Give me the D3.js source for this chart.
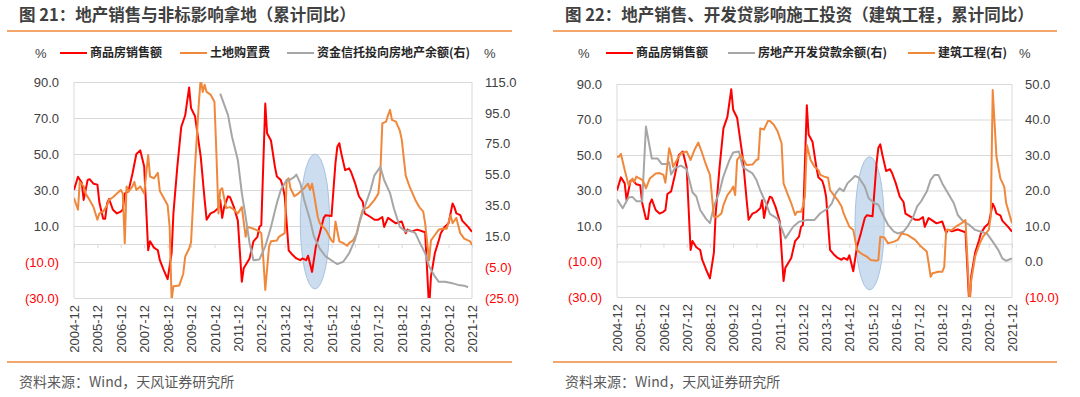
<!DOCTYPE html>
<html lang="zh">
<head>
<meta charset="UTF-8">
<title>地产销售与拿地、施工投资</title>
<script src="https://cdn.jsdelivr.net/npm/d3@7"></script>
<style>
  body { margin: 0; background: #fff; }
  svg text { font-family: "Liberation Sans", Arial, sans-serif; }
  svg .cn { font-family: "Noto Sans CJK SC", "Noto Sans", sans-serif; }
</style>
</head>
<body>
<svg id="chart" width="1080" height="397"></svg>
<script>

// ---------- data ----------

// x axis labels and y axis ticks
var yearTicks  = ["2004-12","2005-12","2006-12","2007-12","2008-12","2009-12","2010-12","2011-12","2012-12",
                  "2013-12","2014-12","2015-12","2016-12","2017-12","2018-12","2019-12","2020-12","2021-12"];
var leftTicks  = [-30, -10, 10, 30, 50, 70, 90];
var trustTicks = [-25, -5, 15, 35, 55, 75, 95, 115];
var buildTicks = [-10, 0, 10, 20, 30, 40, 50];

// 商品房销售额 累计同比 (both panels, left axis)
var salesMonths = [
  "2004-12",
  "2005-02","2005-04","2005-05","2005-07","2005-08","2005-10","2005-12",
  "2006-01","2006-03","2006-04","2006-05","2006-06","2006-08","2006-10","2006-12",
  "2007-01","2007-02","2007-04","2007-06","2007-08","2007-10","2007-12",
  "2008-02","2008-03","2008-05","2008-07","2008-08","2008-10","2008-12",
  "2009-02","2009-03","2009-05","2009-07","2009-09","2009-11","2009-12",
  "2010-02","2010-04","2010-05","2010-07","2010-08","2010-10","2010-12",
  "2011-02","2011-03","2011-04","2011-05","2011-07","2011-08","2011-10","2011-12",
  "2012-02","2012-03","2012-06","2012-08","2012-10","2012-11","2012-12",
  "2013-02","2013-03","2013-05","2013-07","2013-08","2013-10","2013-11","2013-12",
  "2014-02","2014-04","2014-06","2014-08","2014-09","2014-11","2014-12",
  "2015-02","2015-04","2015-06","2015-08","2015-09","2015-12",
  "2016-02","2016-03","2016-04","2016-05","2016-07","2016-09","2016-10","2016-12",
  "2017-02","2017-04","2017-05","2017-08","2017-10","2017-12",
  "2018-02","2018-03","2018-05","2018-07","2018-09","2018-12",
  "2019-02","2019-03","2019-05","2019-08","2019-12",
  "2020-02","2020-03","2020-05","2020-07","2020-08","2020-10","2020-12",
  "2021-02","2021-03","2021-04","2021-06","2021-07","2021-10","2021-12"];
var salesValues = [
  30,
  37.4, 34, 24.5, 35.5, 36, 33.5, 33,
  23, 14, 14, 22.5, 25, 19, 17, 18,
  19, 28, 29.5, 39, 50, 52, 43,
  -3.5, 1.5, -2, -3.5, -9, -14.5, -19.5,
  -5, 17, 43, 65, 71.5, 87, 75.5,
  71, 56, 48.5, 24.5, 13.5, 17, 18,
  20, 24.5, 14.5, 20.5, 26.5, 26, 20.5, 13,
  -21, -13.5, -8, 1.5, 4, 9.5, 10.5,
  78, 61.5, 57.5, 43, 37.5, 35.5, 32, 26.5,
  -3.5, -6, -8, -9, -8, -9, -6.5,
  -15.5, -1.5, 6, 14.5, 16, 15.5,
  45, 54, 56, 50.5, 41, 42, 40, 34,
  26.5, 23.5, 17, 15, 13.5, 13.5,
  15, 9.5, 14.5, 13, 11.5, 12.5,
  6, 8, 7, 8, 6.5,
  -36, -18, -5, 2, 6, 9.5, 11.5,
  22.5, 20.5, 17, 16, 13, 9.5, 6.8];

// 土地购置费 累计同比 (panel 1, left axis)
var landMonths = [
  "2004-12",
  "2005-02","2005-03","2005-05","2005-06","2005-08","2005-10","2005-12",
  "2006-01","2006-03","2006-05","2006-06","2006-08","2006-10","2006-12",
  "2007-01","2007-02","2007-03","2007-04","2007-06","2007-07","2007-08","2007-10","2007-12",
  "2008-02","2008-03","2008-05","2008-07","2008-08","2008-10","2008-12",
  "2009-01","2009-02","2009-03","2009-06","2009-08","2009-09","2009-11","2009-12",
  "2010-02","2010-04","2010-05","2010-06","2010-07","2010-08","2010-10","2010-12",
  "2011-01","2011-02","2011-03","2011-04","2011-06","2011-08","2011-10","2011-12",
  "2012-02","2012-04","2012-05","2012-08","2012-11","2012-12",
  "2013-01","2013-02","2013-04","2013-05","2013-08","2013-09","2013-12",
  "2014-01","2014-02","2014-03","2014-05","2014-07","2014-10","2014-12",
  "2015-01","2015-02","2015-03","2015-05","2015-06","2015-09","2015-12",
  "2016-01","2016-02","2016-04","2016-06","2016-08","2016-09","2016-11",
  "2017-01","2017-03","2017-04","2017-07","2017-10","2017-12",
  "2018-01","2018-02","2018-04","2018-05","2018-06","2018-07","2018-09","2018-11","2018-12",
  "2019-02","2019-04","2019-07","2019-09","2019-11","2019-12",
  "2020-02","2020-03","2020-05","2020-07","2020-09","2020-11",
  "2021-01","2021-02","2021-04","2021-06","2021-08","2021-11","2021-12"];
var landValues = [
  25.5,
  19, 34.5, 32, 28, 24.5, 20.5, 13.5,
  17, 18, 21.5, 24.5, 26, 28, 30,
  28, 0.5, 32, 29, 32, 34.5, 30, 32, 28,
  49.5, 37.5, 36.5, 39.5, 29.5, 25.5, 21.5,
  9.5, -31, -23.5, -23, -16.5, -7, -2.5, 1,
  43, 78, 92, 84.5, 88.5, 84.5, 83, 79,
  50, 17, 30, 31, 20, 20.5, 19, 17,
  20.5, 4, 9.5, 8.5, 7, 6,
  -8, -25.5, -1.5, 1.5, 2, 4, 6,
  35.5, 36.5, 31, 26.5, 28, 31, 33.5,
  30, 33.5, 28, 15, 11.5, 8, 2,
  1, 12.5, 1.5, 0.5, -1, 0.5, 2,
  6, 15, 19, 20.5, 24.5, 28,
  39.5, 67, 68, 71.5, 74.5, 69, 68, 63, 58,
  38, 32, 24.5, 20.5, 18, 11.5,
  -9, 2, 5, 8, 8.5, 8.5,
  16, 11.5, 14.5, 6, 3, 1.5, -0.5];

// 资金信托投向房地产余额 同比 (panel 1, right axis)
var trustMonths = [
  "2011-03","2011-07","2011-09","2011-12",
  "2012-02","2012-04","2012-06","2012-08","2012-11",
  "2013-02","2013-05","2013-08","2013-10",
  "2014-01","2014-02","2014-05","2014-06","2014-08","2014-10",
  "2015-01","2015-03","2015-06","2015-09",
  "2016-01","2016-03","2016-06","2016-09","2016-12",
  "2017-02","2017-05","2017-08","2017-10",
  "2018-01","2018-03","2018-06","2018-08","2018-11",
  "2019-02","2019-04","2019-07","2019-09","2019-12",
  "2020-02","2020-05","2020-07","2020-10",
  "2021-02","2021-05","2021-08","2021-10"];
var trustValues = [
  107.5, 93.5, 79.5, 64.5,
  43, 27.5, 10.5, -0.5, 0,
  8.5, 21, 36.5, 45,
  51.5, 51, 53.5, 55, 49.5, 38.5,
  25.5, 15, 7, 2,
  -1.5, -3, -1.5, 4, 12.5,
  23, 34, 45, 54.5,
  60, 51.5, 43, 33, 21,
  18, 19, 17, 11.5, 4,
  -4.5, -11, -14.5, -14.5,
  -15.5, -16.5, -17, -18];

// 房地产开发贷款余额 同比 (panel 2, right axis)
var loanMonths = [
  "2004-12",
  "2005-03","2005-06","2005-08","2005-10",
  "2006-01","2006-03","2006-06","2006-09","2006-11",
  "2007-02","2007-03","2007-04","2007-06","2007-09","2007-12",
  "2008-03","2008-05","2008-07","2008-10","2008-12",
  "2009-02","2009-05","2009-07","2009-10","2009-12",
  "2010-03","2010-05","2010-07","2010-10","2010-12",
  "2011-02","2011-05","2011-07","2011-11",
  "2012-01","2012-03","2012-07","2012-10",
  "2013-02","2013-06","2013-09",
  "2014-01","2014-03","2014-05","2014-07","2014-09","2014-11",
  "2015-03","2015-05","2015-08","2015-10",
  "2016-01","2016-03","2016-05","2016-08","2016-11",
  "2017-01","2017-04","2017-06","2017-09","2017-11",
  "2018-01","2018-04","2018-06","2018-08","2018-10","2018-12",
  "2019-03","2019-06","2019-08","2019-11",
  "2020-02","2020-05","2020-08","2020-11",
  "2021-02","2021-05","2021-07","2021-09","2021-12"];
var loanValues = [
  17.5,
  15, 18, 18.2, 17,
  17, 38, 29, 29, 27.5,
  27.5, 28, 24.5, 26.3, 27, 26,
  19.5, 18.3, 14.5, 12, 10.8,
  15.5, 19.7, 24, 28.5, 30.7,
  31, 26.7, 25.8, 24.8, 23,
  20, 16.4, 13.4, 12,
  9.3, 6.5, 9.8, 11.2,
  11.7, 11.7, 13.6,
  15, 16.4, 19.2, 20.6, 19.8, 22,
  24.1, 23.6, 21.1, 17.8,
  16.4, 16, 13.6, 10.3, 8.4,
  7.9, 8.4, 9.8, 12.6, 15.5,
  16.9, 19.7, 23, 24.4, 24.4, 22,
  19.2, 16.4, 13.1, 11.2,
  10.3, 8.9, 8.4, 7.9,
  5.6, 3.2, 0.9, 0.2, 0.9];

// 建筑工程 累计同比 (panel 2, right axis)
var buildMonths = [
  "2004-12",
  "2005-01","2005-02","2005-04","2005-06","2005-08","2005-09","2005-10",
  "2006-01","2006-02","2006-03","2006-05","2006-08","2006-10","2006-12",
  "2007-01","2007-03","2007-04","2007-05","2007-07","2007-09","2007-12",
  "2008-02","2008-04","2008-06","2008-08","2008-10","2008-12",
  "2009-02","2009-04","2009-06","2009-07","2009-09","2009-11","2009-12",
  "2010-01","2010-02","2010-04","2010-06","2010-07","2010-10","2010-12",
  "2011-01","2011-02","2011-04","2011-06","2011-07","2011-09","2011-11",
  "2012-01","2012-02","2012-04","2012-06","2012-08","2012-09","2012-11","2012-12",
  "2013-01","2013-02","2013-04","2013-06","2013-08","2013-09","2013-11",
  "2014-01","2014-02","2014-04","2014-06","2014-08","2014-09","2014-12",
  "2015-02","2015-04","2015-06","2015-09","2015-11",
  "2016-02","2016-03","2016-04","2016-06","2016-08","2016-11",
  "2017-01","2017-03","2017-06","2017-10",
  "2018-01","2018-04","2018-05","2018-06","2018-07","2018-10","2018-12",
  "2019-01","2019-02","2019-05","2019-07","2019-10","2019-12",
  "2020-02","2020-03","2020-05","2020-07","2020-09","2020-12",
  "2021-01","2021-02","2021-04","2021-06","2021-08","2021-09","2021-11","2021-12"];
var buildValues = [
  29.5,
  29.5, 30.3, 25.8, 21.5, 23.4, 22.5, 23.9,
  23, 22, 20.6, 23.4, 24.8, 24.9, 24.4,
  22.2, 31.9, 30, 26.7, 28.6, 30.5, 31,
  28.6, 31.4, 33.5, 30.5, 27.2, 24.4,
  12.6, 12.6, 13.6, 15.9, 18.7, 20.1, 21.1,
  18.7, 28.6, 30, 28.1, 27.2, 27.3, 28.6,
  28.8, 37.5, 37.2, 39.6, 39.6, 38.5, 36.6,
  33.3, 22, 19.2, 16.4, 13.1, 14, 14, 15.5,
  18.3, 32.8, 28.6, 26.7, 25.8, 24.4, 23.9,
  23.6, 20.1, 18.7, 17.3, 15.5, 13.6, 9.8,
  8.9, 3.2, 2.3, 1.4, 0.4,
  0.2, 0.4, 7, 6.8, 5.1, 5.6,
  6.1, 7.9, 7.5, 6.1,
  4.2, 2.8, -0.5, -4.3, -3.3, -2.9, -2.9,
  -1.5, 8.9, 8.9, 9.8, 10.8, 11.7,
  -11, -5.2, 1.4, 4.6, 7, 8.9,
  12.6, 48.3, 29.5, 23.4, 21.1, 16.4, 12.6, 10.8];

// ---------- drawing ----------

var RED = "#ff0000", ORANGE = "#f0883c", GRAY = "#a6a6a6", GRID = "#d9d9d9", RULE = "#f0883c";
var parseMonth = d3.timeParse("%Y-%m");

function toSeries(months, values) {
    return months.map(function (m, i) { return { date: parseMonth(m), v: values[i] }; });
}
function fmt(v) {
    return v < 0 ? "(" + Math.abs(v).toFixed(1) + ")" : v.toFixed(1);
}

var sales = toSeries(salesMonths, salesValues),
    land  = toSeries(landMonths, landValues),
    trust = toSeries(trustMonths, trustValues),
    loan  = toSeries(loanMonths, loanValues),
    build = toSeries(buildMonths, buildValues);

var panels = [
    {
        id: "p1",
        title: "图 21：地产销售与非标影响拿地（累计同比）",
        left: 7, right: 512, titleX: 19,
        x0: 74, x1: 472, y0: 82, y1: 298,
        rightDomain: [-25, 115], rightTicks: trustTicks,
        series: [
            { name: "商品房销售额", color: RED, data: sales, axis: "L", lx: 60 },
            { name: "土地购置费", color: ORANGE, data: land, axis: "L", lx: 180 },
            { name: "资金信托投向房地产余额(右)", color: GRAY, data: trust, axis: "R", lx: 287 }
        ],
        pctX: [35, 484],
        oval: { from: "2014-08", to: "2015-11", top: 50, bottom: -25 }
    },
    {
        id: "p2",
        title: "图 22：地产销售、开发贷影响施工投资（建筑工程，累计同比）",
        left: 553, right: 1057, titleX: 565,
        x0: 617, x1: 1012, y0: 84, y1: 297,
        rightDomain: [-10, 50], rightTicks: buildTicks,
        series: [
            { name: "商品房销售额", color: RED, data: sales, axis: "L", lx: 606 },
            { name: "房地产开发贷款余额(右)", color: GRAY, data: loan, axis: "R", lx: 728 },
            { name: "建筑工程(右)", color: ORANGE, data: build, axis: "R", lx: 908 }
        ],
        pctX: [578, 1019],
        oval: { from: "2015-03", to: "2016-06", top: 49, bottom: -26 }
    }
];

var svg = d3.select("#chart");

panels.forEach(function (p) {
    var g = svg.append("g").attr("id", p.id);

    // title + rules + source
    g.append("text").attr("class", "cn")
        .attr("x", p.titleX).attr("y", 21)
        .style("font-size", "16.5px").style("font-weight", "bold").style("fill", "#404040")
        .text(p.title);
    g.append("line").attr("x1", p.left).attr("x2", p.right).attr("y1", 31).attr("y2", 31)
        .style("stroke", RULE).style("stroke-width", 1.5);
    g.append("line").attr("x1", p.left).attr("x2", p.right).attr("y1", 362).attr("y2", 362)
        .style("stroke", RULE).style("stroke-width", 1.5);
    g.append("text").attr("class", "cn")
        .attr("x", p.titleX).attr("y", 387)
        .style("font-size", "14px").style("fill", "#595959")
        .text("资料来源：Wind，天风证券研究所");

    var x = d3.scaleTime()
        .domain([parseMonth("2004-12"), parseMonth("2021-12")])
        .range([p.x0, p.x1]);
    var yL = d3.scaleLinear().domain([-30, 90]).range([p.y1, p.y0]);
    var yR = d3.scaleLinear().domain(p.rightDomain).range([p.y1, p.y0]);

    // gridlines
    g.append("g")
        .attr("transform", "translate(" + p.x0 + ",0)")
        .call(d3.axisLeft(yL).tickValues(leftTicks).tickSize(-(p.x1 - p.x0)).tickFormat(""))
        .call(function (a) { a.select(".domain").remove(); })
        .selectAll("line").style("stroke", GRID);

    // frame sides
    [p.x0, p.x1].forEach(function (xx) {
        g.append("line").attr("x1", xx).attr("x2", xx).attr("y1", p.y0).attr("y2", p.y1)
            .style("stroke", GRID);
    });

    // zero axis with year ticks
    g.append("g")
        .attr("transform", "translate(0," + yL(0) + ")")
        .call(d3.axisBottom(x).tickValues(yearTicks.map(parseMonth)).tickSize(4).tickFormat(""))
        .call(function (a) {
            a.select(".domain").style("stroke", GRID);
            a.selectAll("line").style("stroke", GRID);
        });

    // left axis labels
    g.append("g")
        .attr("transform", "translate(" + (p.x0 - 12) + ",0)")
        .call(d3.axisLeft(yL).tickValues(leftTicks).tickSize(0).tickFormat(fmt))
        .call(function (a) {
            a.select(".domain").remove();
            a.selectAll("text")
                .style("font-size", "13px")
                .style("font-family", "'Liberation Sans', Arial, sans-serif")
                .style("fill", function (d) { return d < 0 ? RED : "#404040"; });
        });

    // right axis labels
    g.append("g")
        .attr("transform", "translate(" + (p.x1 + 10) + ",0)")
        .call(d3.axisRight(yR).tickValues(p.rightTicks).tickSize(0).tickFormat(fmt))
        .call(function (a) {
            a.select(".domain").remove();
            a.selectAll("text")
                .style("font-size", "13px")
                .style("font-family", "'Liberation Sans', Arial, sans-serif")
                .style("fill", function (d) { return d < 0 ? RED : "#404040"; });
        });

    // x labels, rotated
    g.append("g")
        .attr("transform", "translate(0," + p.y1 + ")")
        .call(d3.axisBottom(x).tickValues(yearTicks.map(parseMonth)).tickSize(0).tickFormat(d3.timeFormat("%Y-%m")))
        .call(function (a) {
            a.select(".domain").remove();
            a.selectAll("text")
                .attr("transform", "rotate(-90)")
                .attr("x", -7).attr("y", 0).attr("dy", "0.35em")
                .style("text-anchor", "end")
                .style("font-size", "13px")
                .style("font-family", "'Liberation Sans', Arial, sans-serif")
                .style("fill", "#404040");
        });

    // highlight oval
    var ox0 = x(parseMonth(p.oval.from)), ox1 = x(parseMonth(p.oval.to));
    g.append("ellipse")
        .attr("cx", (ox0 + ox1) / 2).attr("rx", (ox1 - ox0) / 2)
        .attr("cy", (yL(p.oval.top) + yL(p.oval.bottom)) / 2)
        .attr("ry", (yL(p.oval.bottom) - yL(p.oval.top)) / 2)
        .style("fill", "#c3d7ec").style("fill-opacity", 0.85)
        .style("stroke", "#a8c2df").style("stroke-width", 1);

    // lines
    g.append("clipPath").attr("id", "clip-" + p.id)
        .append("rect").attr("x", p.x0).attr("y", p.y0)
        .attr("width", p.x1 - p.x0).attr("height", p.y1 - p.y0);

    var lines = g.append("g").attr("clip-path", "url(#clip-" + p.id + ")");
    p.series.forEach(function (s) {
        var y = s.axis === "L" ? yL : yR;
        lines.append("path")
            .datum(s.data)
            .attr("d", d3.line().x(function (d) { return x(d.date); }).y(function (d) { return y(d.v); }))
            .style("fill", "none")
            .style("stroke", s.color)
            .style("stroke-width", 2)
            .style("stroke-linejoin", "round");
    });

    // legend
    var ly = 53;
    p.pctX.forEach(function (px) {
        g.append("text").attr("x", px).attr("y", ly).attr("dy", "0.35em")
            .style("font-size", "13px").style("fill", "#404040").text("%");
    });
    p.series.forEach(function (s) {
        g.append("line").attr("x1", s.lx).attr("x2", s.lx + 27).attr("y1", ly).attr("y2", ly)
            .style("stroke", s.color).style("stroke-width", 2);
        g.append("text").attr("class", "cn")
            .attr("x", s.lx + 30).attr("y", ly).attr("dy", "0.35em")
            .style("font-size", "12px").style("font-weight", "bold").style("fill", "#262626")
            .text(s.name);
    });
});

</script>
</body>
</html>
